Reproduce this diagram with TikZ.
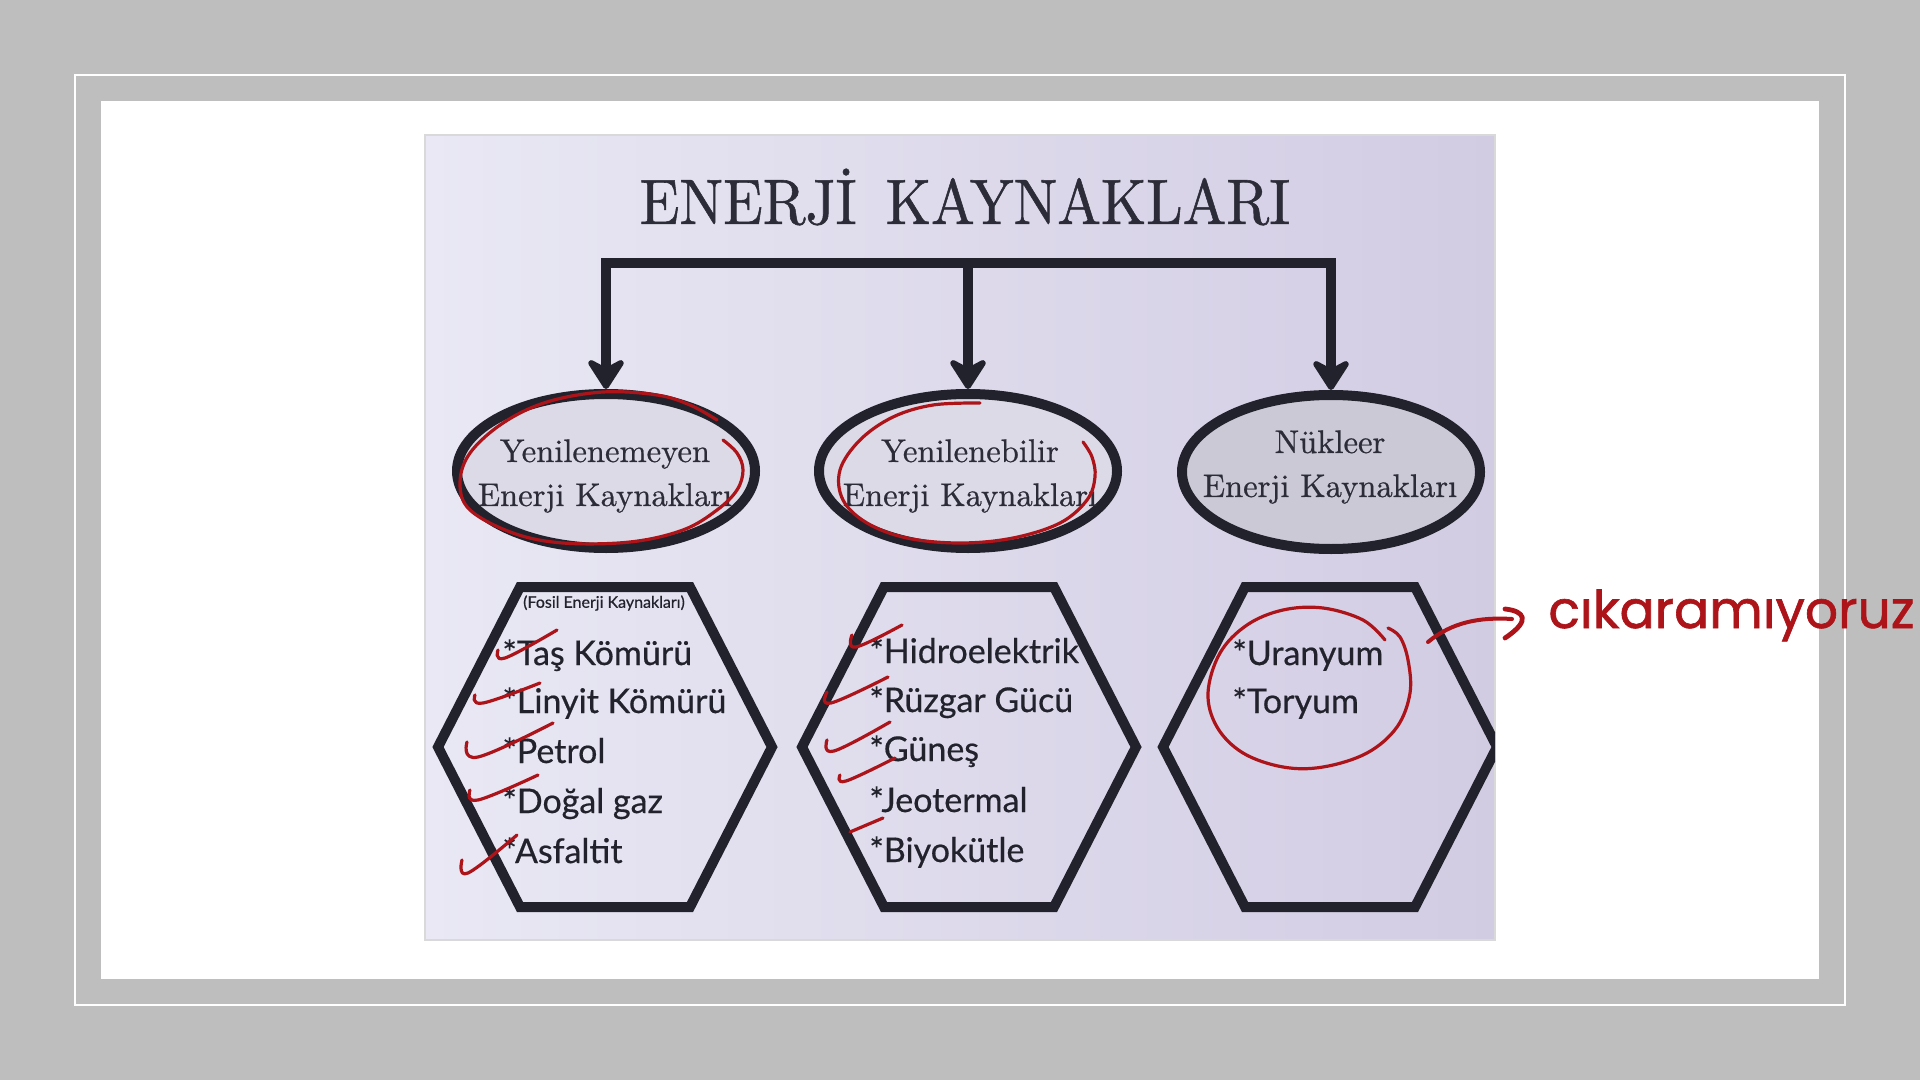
\documentclass[tikz,border=0pt]{standalone}
\usepackage{fontspec}
\usepackage{graphicx}
\newfontfamily\listfont[FakeBold=0.5]{Lato}
\newfontfamily\handfont[FakeBold=1.2]{Poppins}
\newfontfamily\serifheavy[FakeBold=0.9]{lmroman10-regular.otf}
\newfontfamily\serifmid[FakeBold=0.7]{lmroman10-regular.otf}
\usetikzlibrary{arrows.meta,shapes.geometric}
\definecolor{bggray}{RGB}{190,190,190}
\definecolor{slideL}{RGB}{233,232,244}
\definecolor{slideR}{RGB}{210,204,227}
\definecolor{ink}{RGB}{34,34,44}
\definecolor{titleink}{RGB}{44,44,56}
\definecolor{ellfill}{RGB}{220,218,230}
\definecolor{ellfillB}{RGB}{203,201,214}
\definecolor{penred}{RGB}{172,20,26}
\begin{document}
\begin{tikzpicture}[x=0.5pt,y=-0.5pt,
  >={Stealth[length=18pt,width=23pt,inset=6pt,round]},
  ell/.style={ellipse, draw=ink, line width=5pt, minimum width=149pt, minimum height=77pt, inner sep=0pt, fill=ellfill},
  elltext/.style={font=\serifmid\fontsize{16.3}{22}\selectfont, align=center, text=titleink, inner sep=0pt},
  conn/.style={draw=ink, line width=5pt},
  hexline/.style={draw=ink, line width=5pt, line join=miter},
  item/.style={font=\listfont\fontsize{17}{20}\selectfont, text=ink, anchor=base west, inner sep=0pt},
  redpen/.style={draw=penred, line width=1.6pt, line cap=round, line join=round},
]
\fill[bggray] (0,0) rectangle (1920,1080);
\useasboundingbox (0,0) rectangle (1920,1080);
\draw[white, line width=1pt] (75,75) rectangle (1845,1005);
\fill[white] (101,101) rectangle (1819,979);
\shade[left color=slideL, right color=slideR] (425,135) rectangle (1495,940);
\draw[black!15, line width=1pt] (425,135) rectangle (1495,940);

% title
\node[text=titleink, inner sep=0pt] (title) at (965,197)
  {\scalebox{0.91}[1]{\serifheavy\fontsize{32}{32}\selectfont ENERJİ\hspace{0.5em}KAYNAKLARI}};

% ellipses
\node[ell] (e1) at (606,471) {};
\node[ell] (e2) at (968,471) {};
\node[ell, fill=ellfillB] (e3) at (1331,472) {};
\node[elltext] (t1) at (605,476) {Yenilenemeyen\\Enerji Kaynakları};
\node[elltext] (t2) at (970,476) {Yenilenebilir\\Enerji Kaynakları};
\node[elltext] (t3) at (1330,467) {Nükleer\\Enerji Kaynakları};

% connectors
\coordinate (hub) at (968,263);
\draw[conn,<->] (e1.north) |- (hub) -| (e3.north);
\draw[conn,->] (hub) -- (e2.north);

% hexagons
\begin{scope}
\clip (425,135) rectangle (1495,940);
\foreach \cx in {605,969,1330}{
  \draw[hexline] (\cx-167,747) -- (\cx-85,587) -- (\cx+85,587) -- (\cx+167,747)
     -- (\cx+85,907) -- (\cx-85,907) -- cycle;
}
\end{scope}

% lists
\node[font=\listfont\fontsize{8}{9}\selectfont, text=ink, inner sep=0pt] (fosil) at (604,603) {(Fosil Enerji Kaynakları)};
\node[item] (a1) at (502,665) {*Taş Kömürü};
\node[item] (a2) at (502,713) {*Linyit Kömürü};
\node[item] (a3) at (502,763) {*Petrol};
\node[item] (a4) at (502,813) {*Doğal gaz};
\node[item] (a5) at (502,863) {*Asfaltit};
\node[item] (b1) at (869,663) {*Hidroelektrik};
\node[item] (b2) at (869,712) {*Rüzgar Gücü};
\node[item] (b3) at (869,761) {*Güneş};
\node[item] (b4) at (869,812) {*Jeotermal};
\node[item] (b5) at (869,862) {*Biyokütle};
\node[item] (c1) at (1232,665) {*Uranyum};
\node[item] (c2) at (1232,713) {*Toryum};

% red annotations: loops
\draw[redpen] plot[smooth, tension=0.6] coordinates {(717,420) (690,405) (657,395) (603,392) (547,402) (503,423) (470,453) (460,483) (470,510) (513,533) (563,543) (630,542) (683,530) (717,510) (737,490) (743,470) (737,453) (723,440)};
\draw[redpen] plot[smooth, tension=0.6] coordinates {(980,403) (933,405) (893,417) (860,440) (840,470) (843,500) (867,523) (907,538) (960,543) (1013,538) (1060,523) (1087,500) (1095,477) (1092,457) (1083,442)};
\draw[redpen] plot[smooth, tension=0.6] coordinates {(1385,640) (1363,620) (1323,608) (1283,610) (1247,625) (1220,653) (1208,693) (1217,727) (1243,753) (1283,767) (1323,767) (1367,753) (1397,727) (1410,693) (1408,660) (1400,637) (1388,628)};

% check marks
\foreach \p/\q/\r in {{(498,650)}/{(505,658)}/{(557,630)},
                      {(475,695)}/{(483,703)}/{(540,683)},
                      {(467,742)}/{(478,757)}/{(553,723)},
                      {(470,790)}/{(478,800)}/{(538,775)},
                      {(462,860)}/{(468,873)}/{(517,835)},
                      {(852,635)}/{(856,647)}/{(902,625)},
                      {(827,692)}/{(831,703)}/{(888,677)},
                      {(827,740)}/{(834,751)}/{(890,722)},
                      {(840,775)}/{(846,781)}/{(895,758)}}{
  \draw[redpen] plot[smooth, tension=0.7] coordinates {\p \q \r};
}
\draw[redpen] (850,832) -- (883,818);

% note
\node[anchor=base west, text=penred, font=\handfont\fontsize{26}{26}\selectfont, inner sep=0pt] (note) at (1548,628) {cıkaramıyoruz};
\coordinate (rs) at (1428,642);
\draw[redpen, line width=2pt] (rs) .. controls (1452,622) and (1480,617) .. (1512,619);
\draw[redpen, line width=2.4pt] (1505,609) .. controls (1524,611) and (1532,620) .. (1505,638);
\end{tikzpicture}
\end{document}
